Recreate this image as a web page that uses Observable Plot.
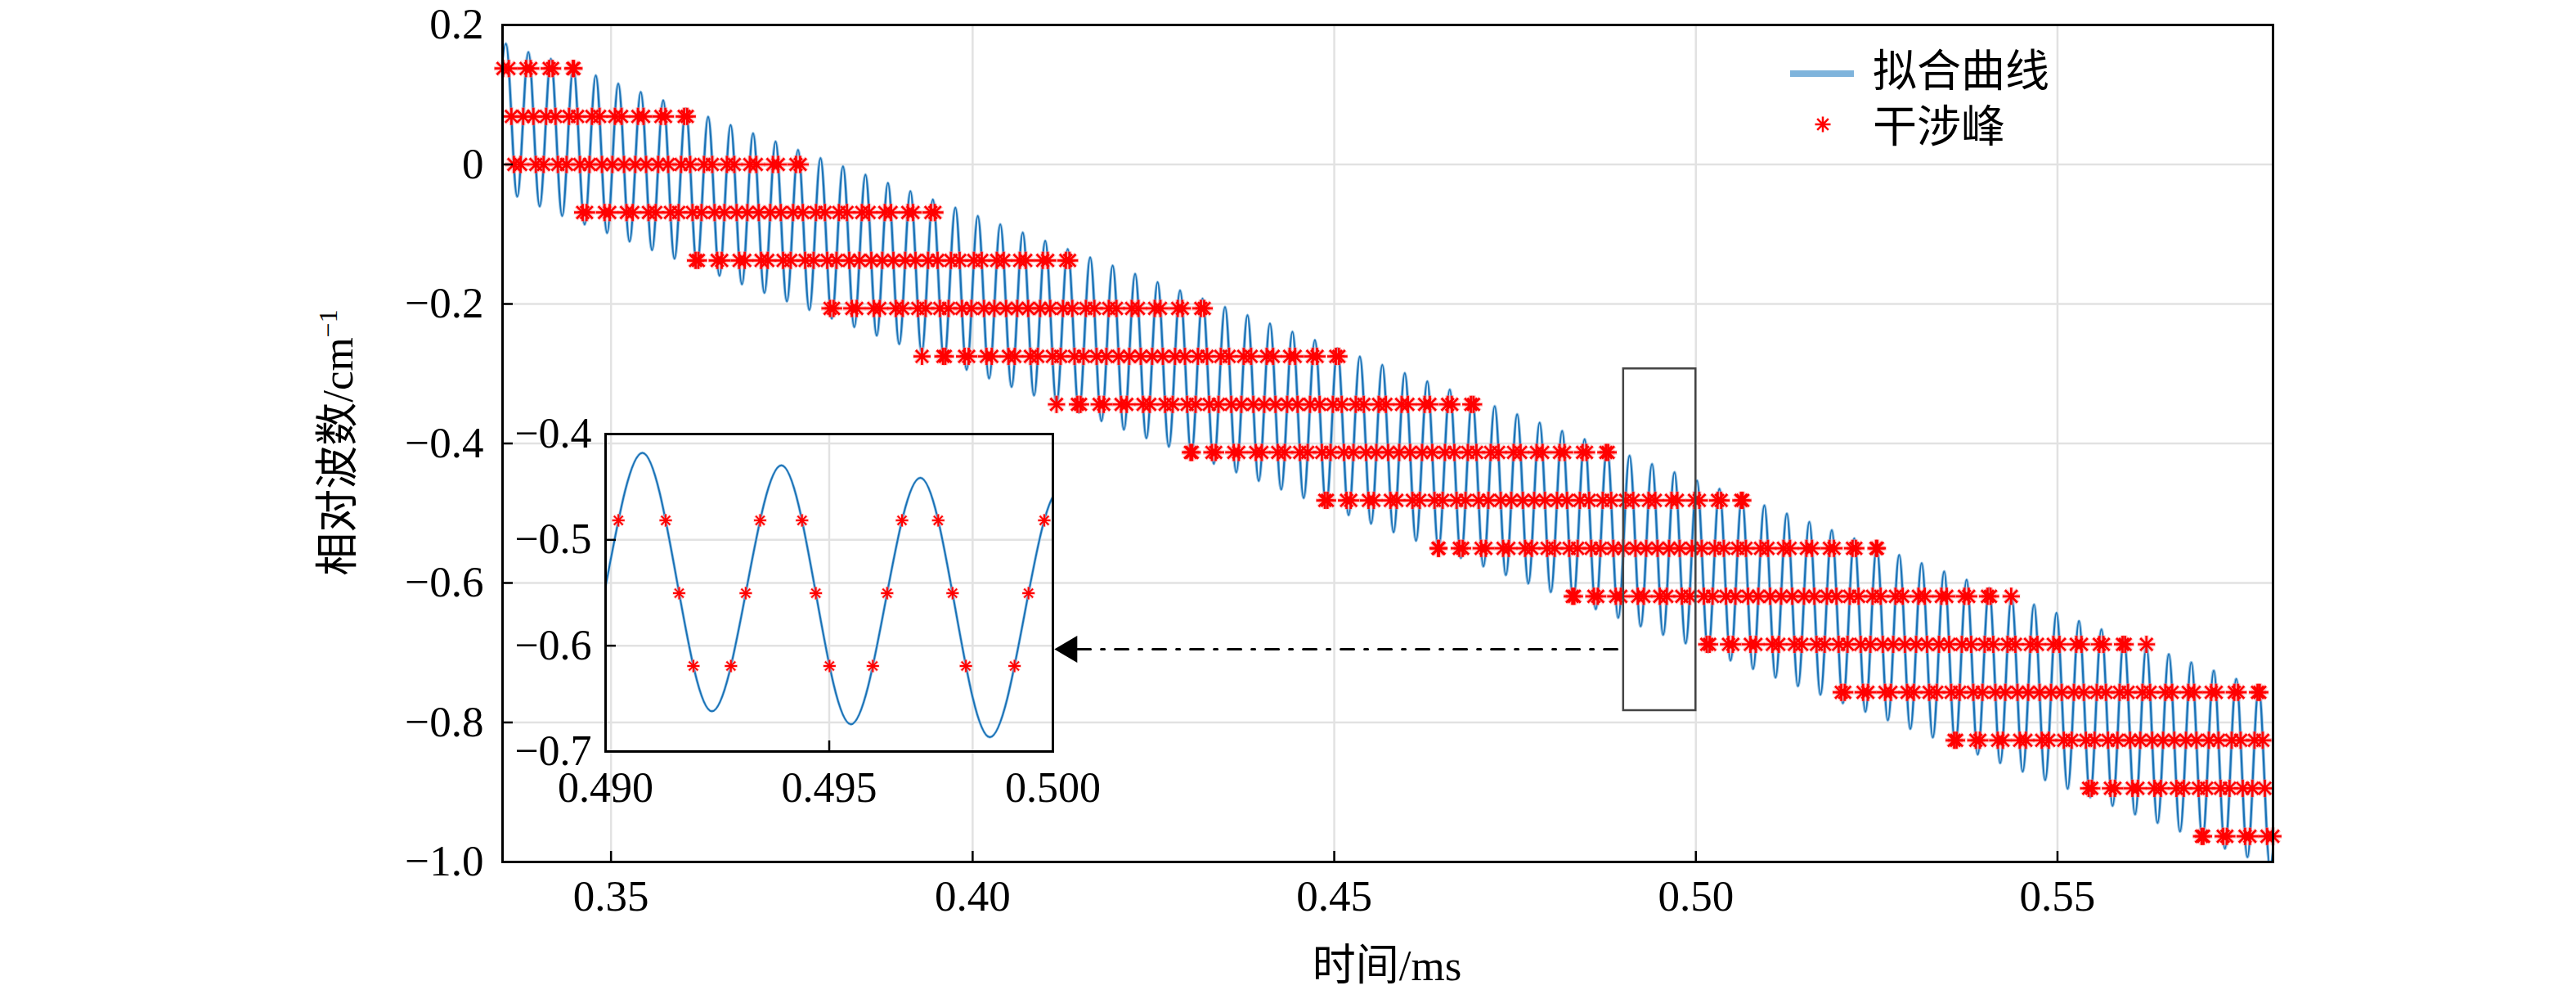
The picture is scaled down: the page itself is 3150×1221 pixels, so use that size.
<!DOCTYPE html>
<html><head><meta charset="utf-8">
<script src="https://cdn.jsdelivr.net/npm/d3@7"></script>
<script src="https://cdn.jsdelivr.net/npm/@observablehq/plot@0.6"></script>
<style>
html,body{margin:0;padding:0;background:#fff;overflow:hidden;}
#wrap{position:relative;width:3150px;height:1221px;font-family:"Liberation Serif","Noto Sans CJK SC",serif;color:#000;}
#wrap > svg{position:absolute;}
.ttl{position:absolute;font-size:53px;white-space:nowrap;line-height:1;}
.ttl sup{font-size:0.6em;vertical-align:0.6em;}
.leg{position:absolute;font-size:54px;white-space:nowrap;line-height:1;}
</style></head><body>
<div id="wrap"></div>
<script>
// ---------- axes ----------
const xDomain = [0.335, 0.5798];
const yDomain = [-1.0, 0.2];
const xTicks = [0.35, 0.40, 0.45, 0.50, 0.55];
const yTicks = [0.2, 0, -0.2, -0.4, -0.6, -0.8, -1.0];
const insetXDomain = [0.490, 0.500];
const insetYDomain = [-0.7, -0.4];
const insetXTicks = [0.490, 0.495, 0.500];
const insetYTicks = [-0.4, -0.5, -0.6, -0.7];
const xLabel = "时间/ms";
const yLabel = "相对波数/cm";
const yLabelSup = "−1";
const legendLabels = ["拟合曲线", "干涉峰"];

// ---------- fitted curve: successive troughs / peaks ----------
const curveT0 = 0.33392;      // time of first extremum (ms)
const curveStep = 0.0015535;  // time between successive extrema (ms)
const curveExtrema = [
 -0.0369, 0.1730, -0.0460, 0.1610, -0.0600, 0.1512, -0.0737, 0.1394, -0.0859, 0.1275,
 -0.0982, 0.1157, -0.1104, 0.1038, -0.1227, 0.0919, -0.1350, 0.0801, -0.1472, 0.0682,
 -0.1595, 0.0564, -0.1717, 0.0445, -0.1840, 0.0327, -0.1962, 0.0208, -0.2085, 0.0090,
 -0.2208, -0.0029, -0.2330, -0.0147, -0.2453, -0.0266, -0.2575, -0.0384, -0.2698, -0.0503,
 -0.2820, -0.0621, -0.2943, -0.0740, -0.3066, -0.0859, -0.3188, -0.0977, -0.3311, -0.1096,
 -0.3433, -0.1214, -0.3556, -0.1333, -0.3678, -0.1451, -0.3801, -0.1570, -0.3924, -0.1688,
 -0.4046, -0.1807, -0.4169, -0.1925, -0.4291, -0.2044, -0.4414, -0.2162, -0.4536, -0.2281,
 -0.4659, -0.2399, -0.4782, -0.2518, -0.4904, -0.2636, -0.5027, -0.2755, -0.5149, -0.2874,
 -0.5272, -0.2992, -0.5394, -0.3111, -0.5517, -0.3229, -0.5640, -0.3348, -0.5762, -0.3466,
 -0.5885, -0.3585, -0.6007, -0.3703, -0.6130, -0.3822, -0.6252, -0.3940, -0.6375, -0.4059,
 -0.6498, -0.4177, -0.6620, -0.4296, -0.6743, -0.4414, -0.6865, -0.4533, -0.6988, -0.4652,
 -0.7110, -0.4770, -0.7233, -0.4889, -0.7356, -0.5007, -0.7478, -0.5126, -0.7601, -0.5244,
 -0.7723, -0.5363, -0.7846, -0.5481, -0.7968, -0.5600, -0.8091, -0.5718, -0.8214, -0.5837,
 -0.8336, -0.5955, -0.8459, -0.6074, -0.8581, -0.6192, -0.8704, -0.6311, -0.8826, -0.6430,
 -0.8949, -0.6548, -0.9072, -0.6667, -0.9194, -0.6785, -0.9317, -0.6904, -0.9439, -0.7022,
 -0.9562, -0.7141, -0.9684, -0.7259, -0.9807, -0.7378, -0.9930, -0.7496, -1.0052, -0.7615
];

// ---------- interference peaks: levels and the time span of each row ----------
const peakLevels = [0.1376, 0.0688, 0, -0.0688, -0.1376, -0.2064, -0.2752, -0.3440, -0.4128,
  -0.4816, -0.5504, -0.6192, -0.6880, -0.7568, -0.8256, -0.8944, -0.9632];
const rowStart = [0.3340, 0.3340, 0.3370, 0.3464, 0.3619, 0.3805, 0.3930, 0.4116, 0.4303,
  0.4488, 0.4645, 0.4830, 0.5018, 0.5203, 0.5359, 0.5544, 0.5700];
const rowEnd = [0.3450, 0.3605, 0.3760, 0.3946, 0.4132, 0.4318, 0.4505, 0.4691, 0.4878,
  0.5064, 0.5251, 0.5436, 0.5623, 0.5800, 0.5800, 0.5800, 0.5800];

// ---------- annotations ----------
const zoomBox = [{t1: 0.490, t2: 0.500, v1: -0.783, v2: -0.293}];
const arrowShaft = [{t: 0.4145, v: -0.695}, {t: 0.490, v: -0.695}];
const arrowTip = [{t: 0.4113, v: -0.695}];

// ---------- build tables ----------
const curve = curveExtrema.map((v, i) => ({t: curveT0 + i * curveStep, v}));

// each interference peak sits where the fitted curve passes its level
const tol = 0.0006;
const stars = [];
peakLevels.forEach((L, k) => {
  const row = [];
  for (let i = 0; i + 1 < curve.length; i++) {
    const a = curve[i], b = curve[i + 1];
    if ((a.v - L) * (b.v - L) >= 0) continue;
    const f = (L - a.v) / (b.v - a.v);
    const u = 0.5 - Math.sin(Math.asin(1 - 2 * f) / 3); // same cubic as monotone-x between extrema
    const t = a.t + u * (b.t - a.t);
    if (t >= rowStart[k] - tol && t <= rowEnd[k] + tol) row.push(t);
  }
  [rowStart[k], rowEnd[k]].forEach(te => {
    if (te > xDomain[0] && te < xDomain[1] && !row.some(t => Math.abs(t - te) < tol)) row.push(te);
  });
  row.filter(t => t >= xDomain[0] && t <= xDomain[1]).forEach(t => stars.push({t, v: L}));
});
const insetStars = stars.filter(d => d.t >= insetXDomain[0] && d.t <= insetXDomain[1]);

// ---------- symbols ----------
const asterisk8 = {draw(ctx, size) {
  const r = Math.sqrt(size / Math.PI), d = r * 0.72;
  ctx.moveTo(-r, 0); ctx.lineTo(r, 0); ctx.moveTo(0, -r); ctx.lineTo(0, r);
  ctx.moveTo(-d, -d); ctx.lineTo(d, d); ctx.moveTo(-d, d); ctx.lineTo(d, -d);
}};
const arrowHead = {draw(ctx, size) {
  const r = Math.sqrt(size / Math.PI);
  ctx.moveTo(0, 0); ctx.lineTo(r, -0.59 * r); ctx.lineTo(r, 0.59 * r); ctx.closePath();
}};

const fmtY = d => d === 0 ? "0" : (d < 0 ? "\u2212" : "") + Math.abs(d).toFixed(1);
const gridStyle = {stroke: "#e2e2e2", strokeOpacity: 1, strokeWidth: 2.5};
const curveColor = "#1a72b6";
const starColor = "#ff0000";
const haloColor = "#ff9a9a";

const wrap = document.getElementById("wrap");

// ---------- main chart ----------
const main = Plot.plot({
  width: 3150, height: 1221,
  marginLeft: 614, marginRight: 371, marginTop: 30, marginBottom: 168,
  style: {fontFamily: '"Liberation Serif","Noto Sans CJK SC",serif', fontSize: "53px", background: "white", overflow: "visible"},
  x: {domain: xDomain},
  y: {domain: yDomain},
  marks: [
    Plot.gridX(xTicks, gridStyle),
    Plot.gridY(yTicks, gridStyle),
    Plot.line(curve, {x: "t", y: "v", curve: "monotone-x", stroke: "#9cc6e6", strokeWidth: 4, clip: true}),
    Plot.line(curve, {x: "t", y: "v", curve: "monotone-x", stroke: curveColor, strokeWidth: 2.2, clip: true}),
    Plot.dot(stars, {x: "t", y: "v", r: 11, symbol: asterisk8, fill: "none", stroke: haloColor, strokeOpacity: 0.5, strokeWidth: 5.5}),
    Plot.dot(stars, {x: "t", y: "v", r: 10.5, symbol: asterisk8, fill: "none", stroke: starColor, strokeWidth: 2.7}),
    Plot.rect(zoomBox, {x1: "t1", x2: "t2", y1: "v1", y2: "v2", fill: "none", stroke: "#444", strokeWidth: 2.5}),
    Plot.line(arrowShaft, {x: "t", y: "v", stroke: "#000", strokeWidth: 3, strokeDasharray: "16,13,4,13"}),
    Plot.dot(arrowTip, {x: "t", y: "v", r: 28, symbol: arrowHead, fill: "#000", stroke: "none"}),
    Plot.frame({stroke: "#000", strokeWidth: 3}),
    Plot.axisX({ticks: xTicks, tickSize: -13, tickPadding: 35, tickFormat: d => d.toFixed(2), label: null, strokeWidth: 2.5, fontSize: 53}),
    Plot.axisY({ticks: yTicks, tickSize: -13, tickPadding: 36, tickFormat: fmtY, label: null, strokeWidth: 2.5, fontSize: 53})
  ]
});
main.style.left = "0px"; main.style.top = "0px";
wrap.appendChild(main);

// ---------- inset ----------
const iml = 120, imt = 30;
const inset = Plot.plot({
  width: iml + 547 + 30, height: imt + 388 + 80,
  marginLeft: iml, marginRight: 30, marginTop: imt, marginBottom: 80,
  style: {fontFamily: '"Liberation Serif","Noto Sans CJK SC",serif', fontSize: "52px", background: "transparent", overflow: "visible"},
  x: {domain: insetXDomain},
  y: {domain: insetYDomain},
  marks: [
    Plot.gridX(insetXTicks, gridStyle),
    Plot.gridY(insetYTicks, gridStyle),
    Plot.line(curve, {x: "t", y: "v", curve: "monotone-x", stroke: "#a8cdea", strokeWidth: 3.5, clip: true}),
    Plot.line(curve, {x: "t", y: "v", curve: "monotone-x", stroke: curveColor, strokeWidth: 2, clip: true}),
    Plot.dot(insetStars, {x: "t", y: "v", r: 8, symbol: asterisk8, fill: "none", stroke: haloColor, strokeOpacity: 0.5, strokeWidth: 4}),
    Plot.dot(insetStars, {x: "t", y: "v", r: 7.5, symbol: asterisk8, fill: "none", stroke: starColor, strokeWidth: 2}),
    Plot.frame({stroke: "#000", strokeWidth: 3}),
    Plot.axisX({ticks: insetXTicks, tickSize: -13, tickPadding: 38, tickFormat: d => d.toFixed(3), label: null, strokeWidth: 2.5, fontSize: 52}),
    Plot.axisY({ticks: insetYTicks, tickSize: -13, tickPadding: 30, tickFormat: fmtY, label: null, strokeWidth: 2.5, fontSize: 52})
  ]
});
inset.style.left = (740 - iml) + "px"; inset.style.top = (530 - imt) + "px";
wrap.appendChild(inset);

// ---------- axis titles ----------
const yt = document.createElement("div");
yt.className = "ttl";
yt.style.left = "413px"; yt.style.top = "541px";
yt.style.transform = "translate(-50%,-50%) rotate(-90deg)";
yt.innerHTML = yLabel + "<sup>" + yLabelSup + "</sup>";
wrap.appendChild(yt);

const xt = document.createElement("div");
xt.className = "ttl";
xt.style.left = "1696px"; xt.style.top = "1180px";
xt.style.transform = "translate(-50%,-50%)";
xt.textContent = xLabel;
wrap.appendChild(xt);

// ---------- legend ----------
const legSvg = d3.create("svg").attr("width", 120).attr("height", 140)
  .style("position", "absolute").style("left", "2170px").style("top", "30px");
legSvg.append("line").attr("x1", 19).attr("x2", 97).attr("y1", 60).attr("y2", 60)
  .attr("stroke", "#7fb4dc").attr("stroke-width", 8);
const sp = d3.path(); asterisk8.draw(sp, 9.5 * 9.5 * Math.PI);
legSvg.append("path").attr("d", sp.toString()).attr("transform", "translate(59,122)")
  .attr("fill", "none").attr("stroke", starColor).attr("stroke-width", 2.5);
wrap.appendChild(legSvg.node());
legendLabels.forEach((s, i) => {
  const el = document.createElement("div");
  el.className = "leg";
  el.style.left = "2290px";
  el.style.top = (i === 0 ? 88 : 156) + "px";
  el.style.transform = "translateY(-50%)";
  el.textContent = s;
  wrap.appendChild(el);
});
</script></body></html>
